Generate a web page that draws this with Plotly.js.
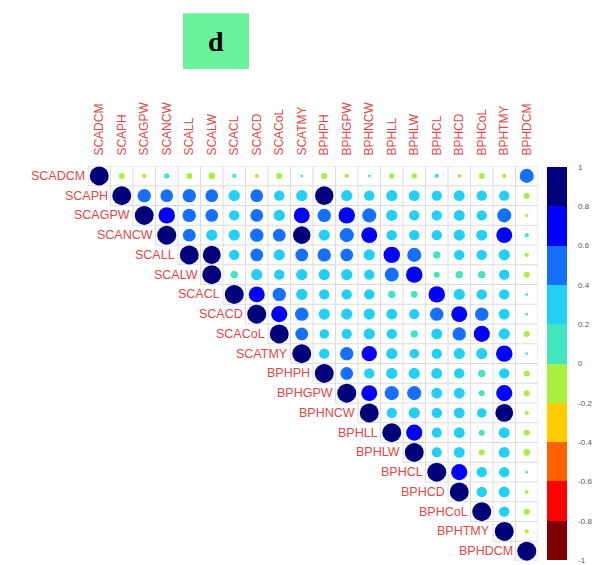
<!DOCTYPE html>
<html>
<head>
<meta charset="utf-8">
<script src="https://cdn.plot.ly/plotly-3.0.1.min.js"></script>
<style>html,body{margin:0;padding:0;background:#fff;}#chart{width:601px;height:565px;}</style>
</head>
<body>
<div id="chart"></div>
<script>
// Variable names (rows top->bottom, columns left->right)
const labels = ["SCADCM","SCAPH","SCAGPW","SCANCW","SCALL","SCALW","SCACL","SCACD","SCACoL","SCATMY",
                "BPHPH","BPHGPW","BPHNCW","BPHLL","BPHLW","BPHCL","BPHCD","BPHCoL","BPHTMY","BPHDCM"];

// Upper-triangle correlations: each row starts at its diagonal cell
const rSCADCM = [1,-0.1,-0.05,0.08,-0.1,-0.12,0.05,-0.04,-0.1,0.02,-0.1,-0.05,0.02,-0.08,-0.08,0.05,-0.04,-0.1,-0.05,0.55];
const rSCAPH  = [1,0.5,0.45,0.5,0.45,0.35,0.45,0.3,0.35,0.95,0.35,0.3,0.35,0.33,0.3,0.33,0.3,0.3,-0.1];
const rSCAGPW = [1,0.75,0.5,0.45,0.3,0.45,0.35,0.7,0.5,0.75,0.55,0.35,0.3,0.3,0.33,0.3,0.55,-0.03];
const rSCANCW = [1,0.45,0.35,0.35,0.5,0.45,0.85,0.35,0.55,0.7,0.3,0.3,0.3,0.35,0.33,0.7,0.05];
const rSCALL  = [1,0.9,0.3,0.45,0.35,0.45,0.5,0.45,0.35,0.75,0.55,0.15,0.3,0.3,0.35,-0.05];
const rSCALW  = [1,0.15,0.35,0.3,0.35,0.35,0.35,0.3,0.55,0.75,0.1,0.15,0.15,0.3,-0.1];
const rSCACL  = [1,0.7,0.5,0.35,0.3,0.3,0.3,0.15,0.12,0.75,0.35,0.3,0.3,0.02];
const rSCACD  = [1,0.72,0.5,0.35,0.35,0.35,0.33,0.28,0.5,0.7,0.5,0.33,0.02];
const rSCACoL = [1,0.45,0.25,0.3,0.35,0.3,0.15,0.33,0.5,0.72,0.35,-0.1];
const rSCATMY = [1,0.3,0.5,0.65,0.35,0.25,0.3,0.35,0.35,0.75,0.02];
const rBPHPH  = [1,0.45,0.3,0.35,0.35,0.33,0.3,0.15,0.3,-0.1];
const rBPHGPW = [1,0.7,0.55,0.55,0.33,0.33,0.1,0.72,-0.1];
const rBPHNCW = [1,0.3,0.35,0.3,0.33,0.25,0.88,-0.05];
const rBPHLL  = [1,0.72,0.28,0.33,0.1,0.33,-0.1];
const rBPHLW  = [1,0.28,0.33,-0.1,0.33,-0.12];
const rBPHCL  = [1,0.72,0.3,0.3,0.02];
const rBPHCD  = [1,0.3,0.33,-0.04];
const rBPHCoL = [1,0.3,-0.1];
const rBPHTMY = [1,-0.05];
const rBPHDCM = [1];

const rows = [rSCADCM,rSCAPH,rSCAGPW,rSCANCW,rSCALL,rSCALW,rSCACL,rSCACD,rSCACoL,rSCATMY,
              rBPHPH,rBPHGPW,rBPHNCW,rBPHLL,rBPHLW,rBPHCL,rBPHCD,rBPHCoL,rBPHTMY,rBPHDCM];

// Colour-bar tick labels and bin colours (from -1 to 1)
const cbTicks = [-1,-0.8,-0.6,-0.4,-0.2,0,0.2,0.4,0.6,0.8,1];
const cbTickText = ["-1","-0.8","-0.6","-0.4","-0.2","0","0.2","0.4","0.6","0.8","1"];
const binColors = ["#7f0000","#ff0000","#ff6000","#ffcc00","#aaef40","#40e6c0","#22d0f6","#1670ff","#0000ff","#00007a"];

const n = labels.length;
const xs = [], ys = [], vals = [], sizes = [];
const maxD = 19;
rows.forEach((row, r) => {
  row.forEach((v, k) => {
    const c = r + k;
    xs.push(labels[c]);
    ys.push(labels[r]);
    vals.push(v);
    sizes.push(maxD * Math.sqrt(Math.abs(v)));
  });
});

// discrete colour scale
const colorscale = [];
binColors.forEach((col, i) => {
  colorscale.push([i / binColors.length, col]);
  colorscale.push([(i + 1) / binColors.length, col]);
});

// cell grid for the upper triangle (index coordinates)
const gx = [], gy = [];
for (let r = 0; r <= n; r++) {
  const y = r - 0.5;
  gx.push(Math.max(r - 1, 0) - 0.5, n - 0.5, null);
  gy.push(y, y, null);
}
for (let c = 0; c <= n; c++) {
  const x = c - 0.5;
  gx.push(x, x, null);
  gy.push(-0.5, Math.min(c, n - 1) + 0.5, null);
}

const idx = l => labels.indexOf(l);

const gridTrace = {
  type: "scatter", mode: "lines", x: gx, y: gy,
  line: {color: "#dcdcdc", width: 1}, hoverinfo: "skip", showlegend: false
};

const dotTrace = {
  type: "scatter", mode: "markers",
  x: xs.map(idx), y: ys.map(idx),
  text: vals.map(String),
  marker: {
    size: sizes, color: vals, cmin: -1, cmax: 1, colorscale: colorscale,
    line: {width: 0}, opacity: 1,
    showscale: true,
    colorbar: {
      x: 1.02, xanchor: "left", xpad: 0, y: 0.5, yanchor: "middle", ypad: 0,
      len: 0.995, lenmode: "fraction", thickness: 20, outlinewidth: 0,
      tickvals: cbTicks, ticktext: cbTickText, ticks: "outside", ticklen: 10,
      tickcolor: "rgba(0,0,0,0)", tickfont: {size: 8, color: "#555", family: "Liberation Sans, Arial"}
    }
  },
  hoverinfo: "text", showlegend: false
};

const annotations = labels.map((l, r) => ({
  x: r - 0.5, y: r, xref: "x", yref: "y", text: l, showarrow: false,
  xanchor: "right", yanchor: "middle", xshift: -1,
  font: {size: 12.5, color: "#e04848", family: "Liberation Sans, Arial"}
}));

const layout = {
  width: 601, height: 565,
  margin: {l: 88, r: 63, t: 166, b: 4, pad: 0},
  paper_bgcolor: "#fff", plot_bgcolor: "#fff",
  title: {
    text: "<b>d</b>", x: 0.359, y: 0.927, xref: "container", yref: "container",
    xanchor: "center", yanchor: "middle",
    font: {family: "Liberation Serif, Times New Roman, serif", size: 28, color: "#000"}
  },
  xaxis: {
    range: [-0.5, n - 0.5], side: "top", showgrid: false, zeroline: false, showline: false,
    tickvals: labels.map((l, i) => i), ticktext: labels, tickangle: -90,
    ticks: "outside", ticklen: 7, tickcolor: "rgba(0,0,0,0)",
    tickfont: {size: 12, color: "#e04848", family: "Liberation Sans, Arial"},
    fixedrange: true
  },
  yaxis: {
    range: [n - 0.5, -0.5], showgrid: false, zeroline: false, showline: false,
    showticklabels: false, ticks: "", fixedrange: true
  },
  shapes: [{
    type: "rect", xref: "paper", yref: "paper",
    x0: 0.2111, x1: 0.3578, y0: 1.2456, y1: 1.387,
    fillcolor: "#6cf29c", line: {width: 0}, layer: "below"
  }],
  annotations: annotations
};

Plotly.newPlot("chart", [gridTrace, dotTrace], layout, {displayModeBar: false, staticPlot: true});
</script>
</body>
</html>
